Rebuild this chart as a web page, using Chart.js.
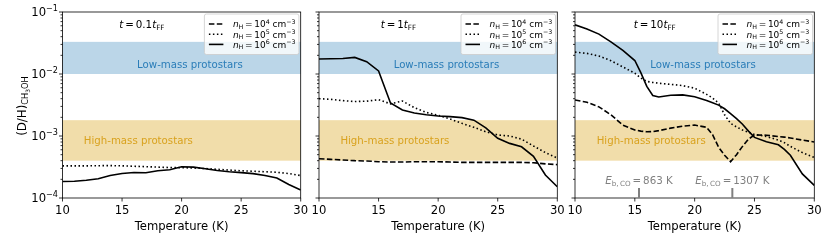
<!DOCTYPE html>
<html><head><meta charset="utf-8">
<script src="https://cdn.jsdelivr.net/npm/chart.js@4.4.1/dist/chart.umd.min.js"></script>
<style>
html,body{margin:0;padding:0;background:#fff;}
#wrap{position:relative;width:830px;height:241px;overflow:hidden;}
canvas{position:absolute;left:0;top:0;}
</style></head><body>
<div id="wrap">
<canvas id="c1" width="830" height="241"></canvas>
<canvas id="c2" width="830" height="241"></canvas>
<canvas id="c3" width="830" height="241"></canvas>
</div>
<script>
// ---------------- DATA ----------------
const temps = [10,11,12,13,14,15,16,17,18,19,20,21,22,23,24,25,26,27,28,29,30];
const temps3 = [10,11,12,13,14,15,15.5,16,16.5,17,18,19,20,21,21.5,22,22.5,23,23.5,24,24.5,25,26,27,27.5,28,29,30];

// panel 1: t = 0.1 t_FF  (nH=1e4 curve lies below the plotted range)
const p1_nH1e4 = [];
const p1_nH1e5 = [3.3e-4,3.3e-4,3.3e-4,3.32e-4,3.33e-4,3.3e-4,3.25e-4,3.2e-4,3.15e-4,3.1e-4,3.08e-4,3.05e-4,2.98e-4,2.9e-4,2.82e-4,2.75e-4,2.7e-4,2.65e-4,2.6e-4,2.48e-4,2.3e-4];
const p1_nH1e6 = [1.85e-4,1.86e-4,1.93e-4,2.05e-4,2.3e-4,2.48e-4,2.58e-4,2.55e-4,2.75e-4,2.85e-4,3.2e-4,3.15e-4,2.97e-4,2.78e-4,2.65e-4,2.57e-4,2.47e-4,2.3e-4,2.1e-4,1.65e-4,1.35e-4];

// panel 2: t = 1 t_FF
const p2_nH1e4 = [4.3e-4,4.2e-4,4.1e-4,4.0e-4,3.95e-4,3.85e-4,3.8e-4,3.8e-4,3.85e-4,3.85e-4,3.85e-4,3.8e-4,3.75e-4,3.75e-4,3.75e-4,3.75e-4,3.75e-4,3.75e-4,3.7e-4,3.55e-4,3.45e-4];
const p2_nH1e5 = [4.0e-3,3.9e-3,3.72e-3,3.6e-3,3.65e-3,3.86e-3,3.3e-3,3.67e-3,2.86e-3,2.4e-3,2.16e-3,1.88e-3,1.6e-3,1.38e-3,1.17e-3,1.04e-3,1.0e-3,8.9e-4,6.9e-4,5.4e-4,4.4e-4];
const p2_nH1e6 = [1.75e-2,1.76e-2,1.78e-2,1.85e-2,1.58e-2,1.12e-2,3.4e-3,2.63e-3,2.35e-3,2.2e-3,2.1e-3,2.05e-3,1.98e-3,1.8e-3,1.35e-3,9.2e-4,7.6e-4,6.7e-4,4.7e-4,2.35e-4,1.52e-4];

// panel 3: t = 10 t_FF  (sampled on temps3)
const p3_nH1e4 = [3.8e-3,3.5e-3,2.95e-3,2.2e-3,1.5e-3,1.25e-3,1.2e-3,1.17e-3,1.18e-3,1.22e-3,1.34e-3,1.44e-3,1.5e-3,1.38e-3,1.05e-3,6.6e-4,4.9e-4,3.85e-4,5.0e-4,6.8e-4,8.9e-4,1.04e-3,1.03e-3,9.8e-4,9.6e-4,9.3e-4,8.6e-4,8.0e-4];
const p3_nH1e5 = [2.25e-2,2.15e-2,1.95e-2,1.64e-2,1.3e-2,1.03e-2,8.6e-3,7.6e-3,7.3e-3,7.1e-3,6.8e-3,6.5e-3,5.9e-3,4.7e-3,4.1e-3,3.4e-3,2.2e-3,1.6e-3,1.4e-3,1.25e-3,1.15e-3,1.06e-3,9.8e-4,8.6e-4,7.8e-4,6.8e-4,5.4e-4,4.5e-4];
const p3_nH1e6 = [6.2e-2,5.3e-2,4.4e-2,3.3e-2,2.4e-2,1.65e-2,1.05e-2,6.3e-3,4.5e-3,4.25e-3,4.55e-3,4.6e-3,4.3e-3,3.75e-3,3.45e-3,3.15e-3,2.75e-3,2.3e-3,1.9e-3,1.55e-3,1.2e-3,9.5e-4,8.1e-4,7.2e-4,6.1e-4,4.9e-4,2.45e-4,1.6e-4];

// observational ranges
const lowMassBand = [1.0e-2, 3.3e-2];
const highMassBand = [4.0e-4, 1.8e-3];
const bandLabels = ['Low-mass protostars', 'High-mass protostars'];

// axis ticks
const xTicks = [10, 15, 20, 25, 30];
const yMajorTicks = [1e-4, 1e-3, 1e-2, 1e-1];
const yMajorExp = ['\u22124', '\u22123', '\u22122', '\u22121'];

// panel titles and legend
const panelTimes = ['0.1', '1', '10'];
const legendExp = ['4', '5', '6'];

// CO binding-energy markers (panel 3)
const ebTemps = [15.35, 23.15];
const ebLabels = ['863', '1307'];

// ---------------- DRAWING ----------------
const FONT = '"DejaVu Sans", sans-serif';
function fnt(s) { return (s.i ? 'italic ' : '') + s.s + 'px ' + FONT; }
function rich(ctx, segs, x, y, align) {
  let w = 0;
  for (const s of segs) { ctx.font = fnt(s); w += ctx.measureText(s.t).width + (s.gap || 0); }
  let cx = align === 'center' ? x - w / 2 : align === 'right' ? x - w : x;
  ctx.textBaseline = 'alphabetic';
  ctx.textAlign = 'left';
  for (const s of segs) {
    ctx.font = fnt(s);
    ctx.fillText(s.t, cx, y + (s.dy || 0));
    cx += ctx.measureText(s.t).width + (s.gap || 0);
  }
  return w;
}

const styles = [
  { dash: [5.5, 2.4] },
  { dash: [1.5, 2.5] },
  { dash: [] }
];

function makePanel(id, idx, area, xs, series) {
  const pad = { left: area[0], right: 830 - area[1], top: 12, bottom: 241 - 198 };
  const datasets = series.map((arr, k) => ({
    label: 'nH=1e' + legendExp[k],
    data: arr.map((v, i) => ({ x: xs[i], y: v })),
    borderColor: '#000',
    borderWidth: 1.6,
    borderDash: styles[k].dash,
    pointRadius: 0,
    tension: 0,
    fill: false
  }));
  const deco = {
    id: 'deco' + idx,
    beforeDatasetsDraw(chart) {
      const ctx = chart.ctx, a = chart.chartArea, y = chart.scales.y;
      ctx.save();
      ctx.fillStyle = 'rgba(31,119,180,0.3)';
      let t = y.getPixelForValue(lowMassBand[1]), b = y.getPixelForValue(lowMassBand[0]);
      ctx.fillRect(a.left, t, a.right - a.left, b - t);
      ctx.fillStyle = 'rgba(218,165,32,0.38)';
      t = y.getPixelForValue(highMassBand[1]); b = y.getPixelForValue(highMassBand[0]);
      ctx.fillRect(a.left, t, a.right - a.left, b - t);
      const xs_ = chart.scales.x;
      ctx.fillStyle = '#2a7db8';
      rich(ctx, [{ t: bandLabels[0], s: 10.2 }], xs_.getPixelForValue(20.7), y.getPixelForValue(1.45e-2) + 3.7, 'center');
      ctx.fillStyle = '#d9a21e';
      rich(ctx, [{ t: bandLabels[1], s: 10.2 }], xs_.getPixelForValue(16.37), y.getPixelForValue(8.6e-4) + 3.7, 'center');
      ctx.restore();
    },
    afterDraw(chart) {
      const ctx = chart.ctx, a = chart.chartArea, xs_ = chart.scales.x, y = chart.scales.y;
      ctx.save();
      // spines
      ctx.strokeStyle = '#000';
      ctx.lineWidth = 0.8;
      ctx.strokeRect(a.left, a.top, a.right - a.left, a.bottom - a.top);
      // x ticks
      ctx.fillStyle = '#000';
      ctx.beginPath();
      for (const v of xTicks) {
        const px = xs_.getPixelForValue(v);
        ctx.moveTo(px, a.bottom); ctx.lineTo(px, a.bottom + 3.5);
      }
      // y ticks (major + minor)
      for (let e = -4; e <= -1; e++) {
        for (let m = 1; m <= 9; m++) {
          const v = m * Math.pow(10, e);
          if (v > 0.1000001) break;
          const py = y.getPixelForValue(v);
          ctx.moveTo(a.left, py); ctx.lineTo(a.left - (m === 1 ? 3.5 : 2), py);
        }
      }
      ctx.stroke();
      for (const v of xTicks) {
        rich(ctx, [{ t: String(v), s: 11.6 }], xs_.getPixelForValue(v), 213.6, 'center');
      }
      rich(ctx, [{ t: 'Temperature (K)', s: 11.6 }], (a.left + a.right) / 2, 229.8, 'center');
      if (idx === 0) {
        yMajorTicks.forEach((v, k) => {
          const py = y.getPixelForValue(v);
          rich(ctx, [{ t: '10', s: 11.6 }, { t: yMajorExp[k], s: 8.1, dy: -5 }], a.left - 4.5, py + 4.2, 'right');
        });
        ctx.save();
        ctx.translate(25.5, 106);
        ctx.rotate(-Math.PI / 2);
        rich(ctx, [{ t: '(D/H)', s: 11.8 }, { t: 'CH', s: 8.3, dy: 2.9 }, { t: '3', s: 5.9, dy: 4.2 }, { t: 'OH', s: 8.3, dy: 2.9 }], 0, 0, 'center');
        ctx.restore();
      }
      // panel title
      const tx = a.left + (a.right - a.left) / 3;
      rich(ctx, [{ t: 't', s: 10.3, i: true, gap: 1.9 }, { t: '=', s: 10.3, gap: 1.9 }, { t: panelTimes[idx], s: 10.3 }, { t: 't', s: 10.3, i: true }, { t: 'FF', s: 7.2, dy: 2 }], tx, 27.6, 'center');
      // legend box
      const bw = 94.5, bh = 40.5, bx = a.right - bw - 1.8, by = a.top + 2;
      ctx.fillStyle = 'rgba(255,255,255,0.8)';
      ctx.strokeStyle = '#cccccc';
      ctx.lineWidth = 0.8;
      ctx.beginPath();
      ctx.roundRect(bx, by, bw, bh, 2);
      ctx.fill(); ctx.stroke();
      const rows = [by + 10, by + 20.3, by + 30.4];
      for (let k = 0; k < 3; k++) {
        ctx.strokeStyle = '#000';
        ctx.lineWidth = 1.6;
        ctx.setLineDash(styles[k].dash);
        ctx.beginPath();
        ctx.moveTo(bx + 4.5, rows[k]); ctx.lineTo(bx + 19, rows[k]);
        ctx.stroke();
        ctx.setLineDash([]);
        ctx.fillStyle = '#000';
        rich(ctx, [{ t: 'n', s: 9, i: true }, { t: 'H', s: 6.3, dy: 1.6, gap: 1.7 }, { t: '=', s: 9, gap: 1.7 },
                   { t: '10', s: 9 }, { t: legendExp[k], s: 6.3, dy: -3.7 }, { t: ' cm', s: 9 }, { t: '\u22123', s: 6.3, dy: -3.7 }],
             bx + 28.5, rows[k] + 3.3, 'left');
      }
      // E_b markers
      if (idx === 2) {
        ctx.strokeStyle = '#808080';
        ctx.fillStyle = '#808080';
        ctx.lineWidth = 2;
        ebTemps.forEach((T, k) => {
          const px = xs_.getPixelForValue(T);
          ctx.beginPath();
          ctx.moveTo(px, a.bottom - 10); ctx.lineTo(px, a.bottom);
          ctx.stroke();
          rich(ctx, [{ t: 'E', s: 10.3, i: true }, { t: 'b,\u2009CO', s: 7.2, dy: 2, gap: 1.9 }, { t: '=', s: 10.3, gap: 1.9 }, { t: ebLabels[k] + ' K', s: 10.3 }], px, 183.6, 'center');
        });
      }
      ctx.restore();
    }
  };
  return new Chart(document.getElementById(id), {
    type: 'line',
    data: { datasets },
    options: {
      responsive: false,
      animation: false,
      events: [],
      layout: { padding: pad },
      scales: {
        x: { type: 'linear', min: 10, max: 30, display: false },
        y: { type: 'logarithmic', min: 1e-4, max: 1e-1, display: false }
      },
      plugins: { legend: { display: false }, tooltip: { enabled: false } }
    },
    plugins: [deco]
  });
}

makePanel('c1', 0, [62.5, 300.7], temps, [p1_nH1e4, p1_nH1e5, p1_nH1e6]);
makePanel('c2', 1, [319, 557.3], temps, [p2_nH1e4, p2_nH1e5, p2_nH1e6]);
makePanel('c3', 2, [575, 814.3], temps3, [p3_nH1e4, p3_nH1e5, p3_nH1e6]);
</script>
</body></html>
